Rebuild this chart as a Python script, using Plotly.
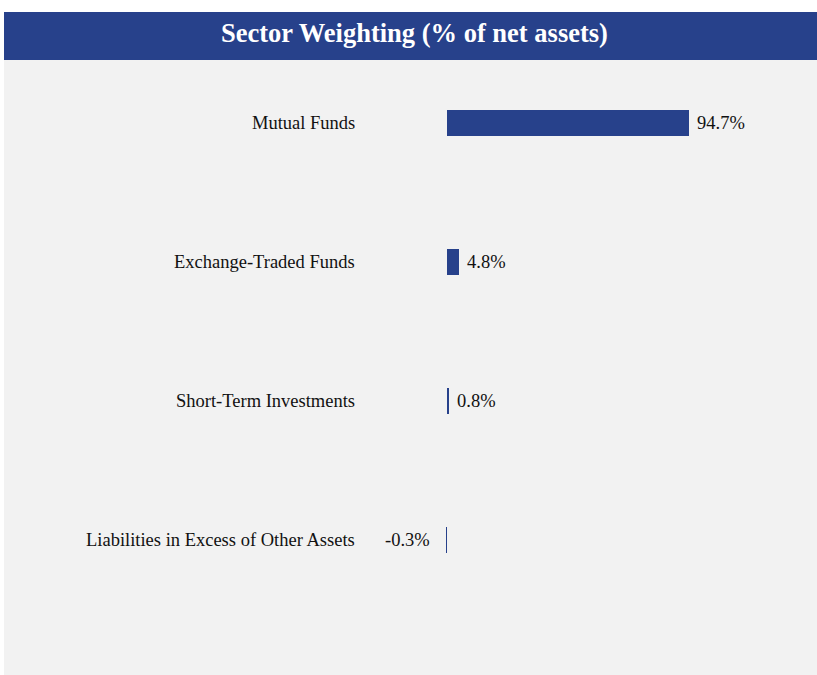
import plotly.graph_objects as go

categories = ["Mutual Funds", "Exchange-Traded Funds", "Short-Term Investments",
              "Liabilities in Excess of Other Assets"]
values = [94.7, 4.8, 0.8, -0.3]
value_labels = ["94.7%", "4.8%", "0.8%", "-0.3%"]
title_text = "Sector Weighting (% of net assets)"

W, H = 817, 675
BLUE = "#27418B"
GRAY = "#F2F2F2"
FONT = "Liberation Serif, Times New Roman, serif"
FS = 18.5

ypos = list(range(len(categories)))

fig = go.Figure()
fig.add_trace(go.Bar(
    x=values, y=ypos, orientation="h",
    marker=dict(color=BLUE, line=dict(width=0)),
    width=0.187, hoverinfo="skip", showlegend=False,
))

# px per unit and zero location
zero_px = 447.0
ppu = 242.0 / 94.7
x_min = -zero_px / ppu
x_max = (W - zero_px) / ppu
y0_px, step = 123.0, 139.0
y_top = -y0_px / step
y_bot = (H - y0_px) / step

annotations = []
for i, (c, v, lab) in enumerate(zip(categories, values, value_labels)):
    annotations.append(dict(
        x=357 / W, xref="paper", y=i, yref="y", text=c, showarrow=False,
        xanchor="right", yanchor="middle",
        font=dict(family=FONT, size=FS, color="#111111"),
    ))
    if v >= 0:
        annotations.append(dict(
            x=v, xref="x", y=i, yref="y", text=lab, showarrow=False,
            xanchor="left", yanchor="middle", xshift=6,
            font=dict(family=FONT, size=FS, color="#111111"),
        ))
    else:
        annotations.append(dict(
            x=v, xref="x", y=i, yref="y", text=lab, showarrow=False,
            xanchor="right", yanchor="middle", xshift=-14,
            font=dict(family=FONT, size=FS, color="#111111"),
        ))

annotations.append(dict(
    x=415 / W, xref="paper", y=1 - 33 / H, yref="paper", text="<b>" + title_text + "</b>",
    showarrow=False, xanchor="center", yanchor="middle",
    font=dict(family=FONT, size=26.5, color="white"),
))

shapes = [
    dict(type="rect", xref="paper", yref="paper", x0=4 / W, x1=1, y0=0, y1=1 - 60 / H,
         fillcolor=GRAY, line=dict(width=0), layer="below"),
    dict(type="rect", xref="paper", yref="paper", x0=4 / W, x1=1, y0=1 - 60 / H, y1=1 - 12 / H,
         fillcolor=BLUE, line=dict(width=0), layer="below"),
]

fig.update_layout(
    width=W, height=H,
    margin=dict(l=0, r=0, t=0, b=0),
    paper_bgcolor="white", plot_bgcolor="rgba(0,0,0,0)",
    xaxis=dict(range=[x_min, x_max], visible=False, fixedrange=True),
    yaxis=dict(range=[y_bot, y_top], visible=False, fixedrange=True),
    annotations=annotations, shapes=shapes,
    bargap=0,
)

fig.write_html(
    "out.html",
    config={"displayModeBar": False},
    post_script="document.body.style.margin='0';document.body.style.overflow='hidden';",
)
